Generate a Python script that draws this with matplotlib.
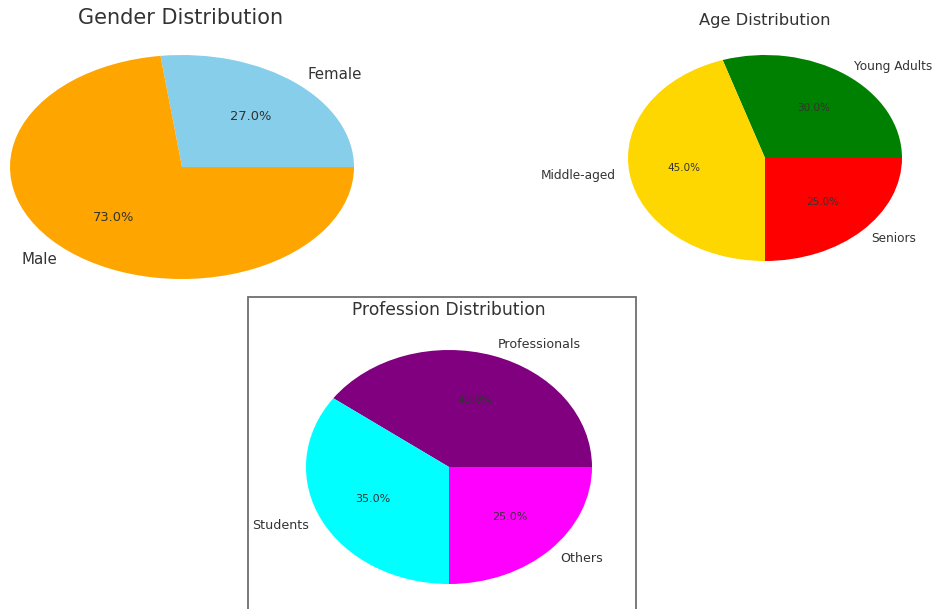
import matplotlib
matplotlib.use("Agg")
import matplotlib.pyplot as plt
from matplotlib.patches import Rectangle

# Data
gender_labels = ["Female", "Male"]
gender_values = [27, 73]
gender_colors = ["skyblue", "orange"]

age_labels = ["Young Adults", "Middle-aged", "Seniors"]
age_values = [30, 45, 25]
age_colors = ["green", "gold", "red"]

prof_labels = ["Professionals", "Students", "Others"]
prof_values = [40, 35, 25]
prof_colors = ["purple", "cyan", "magenta"]

W, H = 934, 609
fig = plt.figure(figsize=(W / 100, H / 100), dpi=100)
fig.patch.set_facecolor("white")

TXT = "#333333"


def pie_axes(cx, cy, rx, ry):
    ax = fig.add_axes([(cx - 1.25 * rx) / W, 1 - (cy + 1.25 * ry) / H,
                       2.5 * rx / W, 2.5 * ry / H])
    return ax


def draw(ax, values, labels, colors, lsize, psize):
    wedges, texts, autotexts = ax.pie(values, labels=labels, colors=colors,
                                      autopct="%1.1f%%", startangle=0)
    ax.set_aspect("auto")
    ax.set_xlim(-1.25, 1.25)
    ax.set_ylim(-1.25, 1.25)
    for t in texts:
        t.set_fontsize(lsize)
        t.set_color(TXT)
    for t in autotexts:
        t.set_fontsize(psize)
        t.set_color(TXT)


ax1 = pie_axes(182, 167, 172, 112)
draw(ax1, gender_values, gender_labels, gender_colors, 10.8, 9.4)
fig.text(181 / W, 1 - 18 / H, "Gender Distribution", ha="center", va="center",
         fontsize=15, color=TXT)

ax2 = pie_axes(765, 158, 137, 103)
draw(ax2, age_values, age_labels, age_colors, 8.7, 7.5)
fig.text(765 / W, 1 - 20 / H, "Age Distribution", ha="center", va="center",
         fontsize=11.7, color=TXT)

ax3 = pie_axes(449, 467, 143, 117)
draw(ax3, prof_values, prof_labels, prof_colors, 9.1, 8.0)
fig.text(449 / W, 1 - 310 / H, "Profession Distribution", ha="center", va="center",
         fontsize=12.3, color=TXT)

# frame around the third panel
rect = Rectangle((248 / W, -0.05), (636 - 248) / W, (1 - 297 / H) + 0.05,
                 transform=fig.transFigure, fill=False, edgecolor="#6e6e6e",
                 linewidth=1.3)
fig.add_artist(rect)

fig.savefig("out.png", dpi=100)
